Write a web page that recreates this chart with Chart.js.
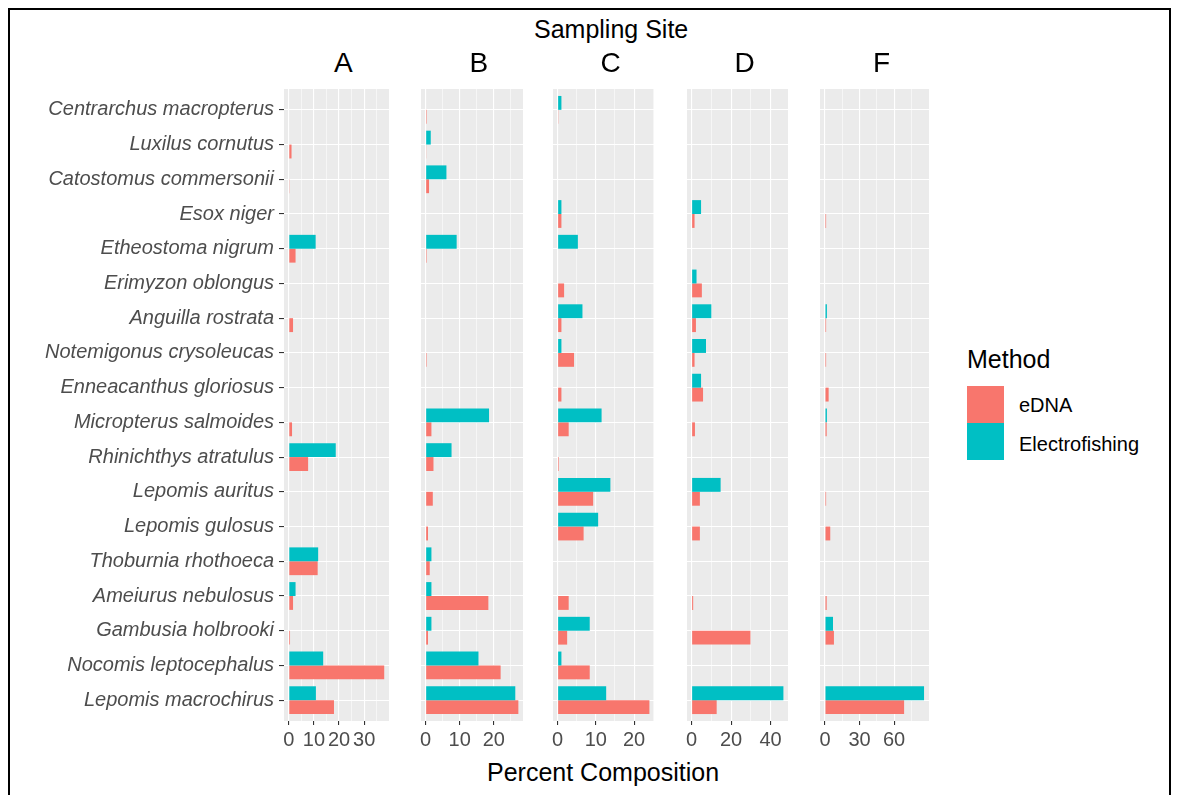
<!DOCTYPE html>
<html>
<head>
<meta charset="utf-8">
<script src="https://cdn.jsdelivr.net/npm/chart.js@4.4.0/dist/chart.umd.min.js"></script>
<style>
body{margin:0;background:#fff;font-family:"Liberation Sans",Arial,sans-serif;}
#wrap{position:relative;width:1181px;height:795px;overflow:hidden;background:#fff;}
.frame{position:absolute;left:8px;top:8px;width:1163px;height:800px;border:2px solid #000;box-sizing:border-box;}
.panel{position:absolute;}
.txt{position:absolute;white-space:nowrap;color:#000;line-height:1;}
.key{position:absolute;width:37px;height:37px;}
</style>
</head>
<body>
<div id="wrap">
  <div class="frame"></div>
  <div class="txt" id="siteTitle" style="font-size:25px;">Sampling Site</div>
  <div class="txt" id="xTitle" style="font-size:25px;">Percent Composition</div>
  <div class="txt" style="left:967px;top:347px;font-size:25px;">Method</div>
  <div class="key" style="left:967px;top:386px;background:#F8766D;"></div>
  <div class="key" style="left:967px;top:423px;background:#00BFC4;"></div>
  <div class="txt" style="left:1019px;top:395px;font-size:20px;">eDNA</div>
  <div class="txt" style="left:1019px;top:434px;font-size:20px;">Electrofishing</div>
</div>
<script>
Chart.defaults.font.family='"Liberation Sans", Arial, sans-serif';

const species=["Centrarchus macropterus","Luxilus cornutus","Catostomus commersonii","Esox niger",
  "Etheostoma nigrum","Erimyzon oblongus","Anguilla rostrata","Notemigonus crysoleucas",
  "Enneacanthus gloriosus","Micropterus salmoides","Rhinichthys atratulus","Lepomis auritus",
  "Lepomis gulosus","Thoburnia rhothoeca","Ameiurus nebulosus","Gambusia holbrooki",
  "Nocomis leptocephalus","Lepomis macrochirus"];
const sites=["A","B","C","D","F"];

// percent composition per site, same order as species
const eDNA_A=[0,1.1,0.3,0,2.7,0,1.7,0,0,1.3,7.7,0,0,11.5,1.7,0.5,38,18];
const elec_A=[0,0,0,0,10.7,0,0,0,0,0,18.7,0,0,11.7,2.7,0,13.7,10.8];
const eDNA_B=[0.3,0.2,1.0,0,0.3,0,0,0.3,0,1.7,2.3,2.1,0.7,1.2,18.4,0.7,22,27.2];
const elec_B=[0,1.5,6.1,0,9.1,0,0,0,0,18.6,7.6,0,0,1.7,1.7,1.7,15.5,26.3];
const eDNA_C=[0.2,0,0,1.0,0,1.7,1.0,4.3,1.0,2.9,0.3,9.3,6.8,0,2.9,2.5,8.4,24];
const elec_C=[1.0,0,0,1.0,5.3,0,6.5,1.0,0,11.5,0,13.8,10.6,0,0,8.4,1.0,12.7];
const eDNA_D=[0,0,0,1.5,0,5.2,2.2,1.5,5.8,1.7,0,4.2,4.2,0,0.8,29.8,0,12.7];
const elec_D=[0,0,0,4.8,0,2.5,10,7.3,4.8,0,0,14.7,0,0,0,0,0,46.5];
const eDNA_F=[0,0,0,1,0,0,1,1,3.2,1.5,0,1,4.6,0,1.5,7.8,0,68.7];
const elec_F=[0,0,0,0,0,0,1.7,0,0,1.7,0,0,0,0,0,7,0,86];

// x tick labels (major) and minor grid positions
const majorA=[0,10,20,30], minorA=[5,15,25,35];
const majorB=[0,10,20], minorB=[5,15,25];
const majorC=[0,10,20], minorC=[5,15,25];
const majorD=[0,20,40], minorD=[10,30];
const majorF=[0,30,60], minorF=[15,45,75];

const panelBg={id:'panelBg',beforeDraw(chart){
  const a=chart.chartArea,c=chart.ctx;
  c.save();c.fillStyle='#EBEBEB';c.fillRect(a.left,a.top,a.right-a.left,a.bottom-a.top);c.restore();
}};

const wrap=document.getElementById('wrap');
const TOP=89, AREA_H=632, XAX_H=40;

function makePanel(site,edna,elec,major,minor,areaL,areaR,first){
  const padL=first?0:20, padR=20;
  const boxL=first?0:areaL-padL;
  const box=document.createElement('div');
  box.className='panel';
  box.style.left=boxL+'px';
  box.style.top=TOP+'px';
  box.style.width=(areaR-boxL+padR)+'px';
  box.style.height=(AREA_H+XAX_H)+'px';
  const cv=document.createElement('canvas');
  box.appendChild(cv);
  wrap.appendChild(box);

  const lab=document.createElement('div');
  lab.className='txt';
  lab.style.fontSize='28px';
  lab.textContent=site;
  wrap.appendChild(lab);
  lab.style.left=((areaL+areaR)/2-lab.offsetWidth/2+7)+'px';
  lab.style.top='49px';

  const hi=Math.max(...edna,...elec);
  const isMajor=c=>c.tick&&major.includes(c.tick.value);
  new Chart(cv,{
    type:'bar',
    data:{datasets:[
      {label:'Electrofishing',data:elec.map((v,i)=>({x:v,y:i})),backgroundColor:'#00BFC4'},
      {label:'eDNA',data:edna.map((v,i)=>({x:v,y:i})),backgroundColor:'#F8766D'}
    ]},
    options:{
      indexAxis:'y',responsive:true,maintainAspectRatio:false,animation:false,
      layout:{padding:{left:padL,right:padR,top:0,bottom:0}},
      datasets:{bar:{barPercentage:1,categoryPercentage:0.8,borderWidth:0}},
      plugins:{legend:{display:false},tooltip:{enabled:false}},
      scales:{
        x:{type:'linear',min:-0.05*hi,max:1.05*hi,offset:false,
          afterBuildTicks:s=>{s.ticks=major.concat(minor).sort((a,b)=>a-b).map(v=>({value:v}));},
          afterFit:s=>{s.height=XAX_H;s.paddingLeft=0;s.paddingRight=0;},
          border:{display:false},
          grid:{offset:false,color:'#fff',lineWidth:c=>isMajor(c)?1.1:0.55,
            tickColor:c=>isMajor(c)?'#333':'rgba(0,0,0,0)',tickLength:4,tickWidth:1.1},
          ticks:{autoSkip:false,maxRotation:0,padding:3,color:'#4D4D4D',font:{size:20},
            callback:v=>major.includes(v)?String(v):''}
        },
        y:{type:'linear',reverse:true,min:-0.6,max:species.length-0.4,offset:false,
          afterBuildTicks:s=>{s.ticks=species.map((_,i)=>({value:i}));},
          afterFit:s=>{s.width=first?284:0;s.paddingTop=0;s.paddingBottom=0;},
          border:{display:false},
          grid:{offset:false,color:'#fff',lineWidth:1.1,tickColor:'#333',tickLength:first?5:0,drawTicks:first},
          ticks:{display:first,autoSkip:false,padding:5,color:'#4D4D4D',
            font:{size:20,style:'italic'},callback:v=>species[v]}
        }
      }
    },
    plugins:[panelBg]
  });
}

makePanel(sites[0],eDNA_A,elec_A,majorA,minorA,284,389,true);
makePanel(sites[1],eDNA_B,elec_B,majorB,minorB,421,523,false);
makePanel(sites[2],eDNA_C,elec_C,majorC,minorC,553,654,false);
makePanel(sites[3],eDNA_D,elec_D,majorD,minorD,687,788,false);
makePanel(sites[4],eDNA_F,elec_F,majorF,minorF,820,929,false);

const st=document.getElementById('siteTitle');
st.style.left=(611-st.offsetWidth/2)+'px';st.style.top='17px';
const xt=document.getElementById('xTitle');
xt.style.left=(603-xt.offsetWidth/2)+'px';xt.style.top='760px';
</script>
</body>
</html>
